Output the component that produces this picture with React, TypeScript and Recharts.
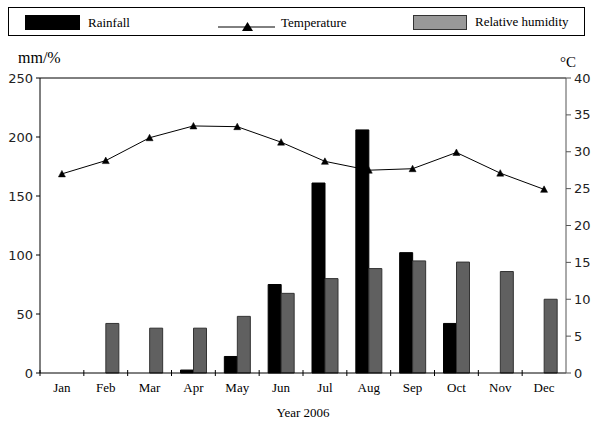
import React from 'react';
import { ComposedChart, Bar, Line, XAxis, YAxis, ReferenceLine } from 'recharts';

const months = ['Jan', 'Feb', 'Mar', 'Apr', 'May', 'Jun', 'Jul', 'Aug', 'Sep', 'Oct', 'Nov', 'Dec'];
const rainfall = [null, null, null, 2.5, 14, 75, 161, 206, 102, 42, null, null];
const humidity = [null, 42, 38, 38, 48, 67.5, 80, 88.5, 95, 94, 86, 62.5];
const temperature = [27.0, 28.8, 31.9, 33.5, 33.4, 31.3, 28.7, 27.5, 27.7, 29.9, 27.1, 24.9];
const leftTicks = [0, 50, 100, 150, 200, 250];
const rightTicks = [0, 5, 10, 15, 20, 25, 30, 35, 40];

const data = months.map((m, i) => ({
  month: m,
  rainfall: rainfall[i],
  humidity: humidity[i],
  temperature: temperature[i],
}));

const serif = '"Liberation Serif", "Times New Roman", serif';
const numFont = '"DejaVu Sans", sans-serif';

const MonthTick = (props: any) => {
  const { x, y, payload } = props;
  const off = payload.offset ?? 0;
  return (
    <g>
      <line x1={x - off} x2={x - off} y1={y - 3} y2={y + 3} stroke="#000" strokeWidth={1} />
      <text x={x} y={y + 19} textAnchor="middle" fontFamily={serif} fontSize={13} fill="#000">
        {payload.value}
      </text>
    </g>
  );
};

const Triangle = (props: any) => {
  const { cx, cy } = props;
  if (cx == null || cy == null) return null;
  return (
    <polygon
      points={`${cx - 3.5},${cy + 3} ${cx + 3.5},${cy + 3} ${cx},${cy - 3.5}`}
      fill="#000"
      stroke="#000"
      strokeWidth={0.5}
    />
  );
};

export default function App() {
  return (
    <div style={{ position: 'absolute', left: 0, top: 0, width: 600, height: 432, background: '#fff' }}>
      <div
        style={{
          position: 'absolute',
          left: 8,
          top: 7,
          width: 575,
          height: 27,
          border: '1px solid #000',
          fontFamily: serif,
          fontSize: 13,
          lineHeight: '15px',
        }}
      >
        <div style={{ position: 'absolute', left: 16, top: 7, width: 55, height: 15, background: '#000' }} />
        <span style={{ position: 'absolute', left: 79, top: 7 }}>Rainfall</span>
        <svg style={{ position: 'absolute', left: 209, top: 12 }} width={57} height={12}>
          <line x1={0} x2={57} y1={7} y2={7} stroke="#000" strokeWidth={1} />
          <polygon points="24,11 35,11 29.5,2" fill="#000" />
        </svg>
        <span style={{ position: 'absolute', left: 272, top: 7 }}>Temperature</span>
        <div
          style={{
            position: 'absolute',
            left: 404,
            top: 7,
            width: 52,
            height: 13,
            background: '#999',
            border: '1px solid #333',
          }}
        />
        <span style={{ position: 'absolute', left: 466, top: 6 }}>Relative humidity</span>
      </div>
      <div style={{ position: 'absolute', left: 18, top: 49, fontFamily: serif, fontSize: 16, lineHeight: '18px' }}>
        mm/%
      </div>
      <div style={{ position: 'absolute', left: 560, top: 54, fontFamily: serif, fontSize: 15, lineHeight: '17px' }}>
        °C
      </div>
      <ComposedChart
        width={600}
        height={432}
        data={data}
        margin={{ top: 78, right: 0, bottom: 0, left: 0 }}
        barGap={0}
        barSize={13}
      >
        <XAxis
          dataKey="month"
          xAxisId="x"
          height={59}
          tickSize={0}
          tickMargin={0}
          tickLine={false}
          axisLine={{ stroke: '#000', strokeWidth: 1 }}
          tick={<MonthTick />}
          interval={0}
          label={{
            value: 'Year 2006',
            position: 'insideBottom',
            offset: 15,
            fontFamily: serif,
            fontSize: 13,
            fill: '#000',
          }}
        />
        <YAxis
          yAxisId="left"
          orientation="left"
          width={40}
          domain={[0, 250]}
          ticks={leftTicks}
          interval={0}
          tickSize={4}
          tickMargin={3}
          axisLine={{ stroke: '#000' }}
          tickLine={{ stroke: '#000' }}
          tick={{ fontFamily: numFont, fontSize: 13, fill: '#222' }}
        />
        <YAxis
          yAxisId="right"
          orientation="right"
          width={34}
          domain={[0, 40]}
          ticks={rightTicks}
          interval={0}
          tickSize={5}
          tickMargin={3}
          axisLine={{ stroke: '#555' }}
          tickLine={{ stroke: '#555' }}
          tick={{ fontFamily: numFont, fontSize: 13, fill: '#222' }}
        />
        <ReferenceLine xAxisId="x" yAxisId="left" y={250} stroke="#000" strokeWidth={1} />
        <Bar xAxisId="x" yAxisId="left" dataKey="rainfall" fill="#000" stroke="#000" isAnimationActive={false} />
        <Bar
          xAxisId="x"
          yAxisId="left"
          dataKey="humidity"
          fill="#606060"
          stroke="#333"
          strokeWidth={1}
          isAnimationActive={false}
        />
        <Line
          xAxisId="x"
          yAxisId="right"
          dataKey="temperature"
          stroke="#000"
          strokeWidth={1}
          dot={<Triangle />}
          activeDot={false}
          isAnimationActive={false}
        />
      </ComposedChart>
    </div>
  );
}
